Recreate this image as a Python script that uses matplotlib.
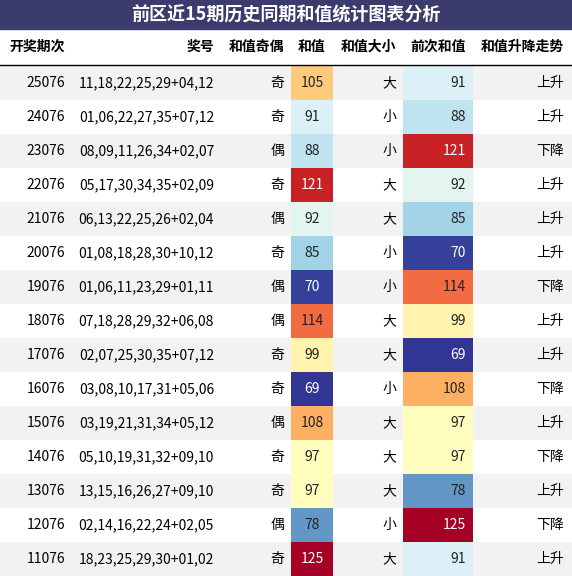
import matplotlib.pyplot as plt
from matplotlib import cm, colors
from matplotlib.patches import Rectangle

plt.rcParams['font.family'] = ['Noto Sans CJK SC', 'DejaVu Sans']

title = "前区近15期历史同期和值统计图表分析"
headers = ["开奖期次", "奖号", "和值奇偶", "和值", "和值大小", "前次和值", "和值升降走势"]
periods = ["25076", "24076", "23076", "22076", "21076", "20076", "19076", "18076",
           "17076", "16076", "15076", "14076", "13076", "12076", "11076"]
numbers = ["11,18,22,25,29+04,12", "01,06,22,27,35+07,12", "08,09,11,26,34+02,07",
           "05,17,30,34,35+02,09", "06,13,22,25,26+02,04", "01,08,18,28,30+10,12",
           "01,06,11,23,29+01,11", "07,18,28,29,32+06,08", "02,07,25,30,35+07,12",
           "03,08,10,17,31+05,06", "03,19,21,31,34+05,12", "05,10,19,31,32+09,10",
           "13,15,16,26,27+09,10", "02,14,16,22,24+02,05", "18,23,25,29,30+01,02"]
parity = ["奇", "奇", "偶", "奇", "偶", "奇", "偶", "偶", "奇", "奇", "偶", "奇", "奇", "偶", "奇"]
sums = [105, 91, 88, 121, 92, 85, 70, 114, 99, 69, 108, 97, 97, 78, 125]
size = ["大", "小", "小", "大", "大", "小", "小", "大", "大", "小", "大", "大", "大", "小", "大"]
prev_sums = [91, 88, 121, 92, 85, 70, 114, 99, 69, 108, 97, 97, 78, 125, 91]
trend = ["上升", "上升", "下降", "上升", "上升", "上升", "下降", "上升", "上升", "下降",
         "上升", "下降", "上升", "下降", "上升"]

W, H = 572, 576
fig = plt.figure(figsize=(W / 100, H / 100), dpi=100)
ax = fig.add_axes([0, 0, 1, 1])
ax.set_xlim(0, W)
ax.set_ylim(H, 0)
ax.axis("off")

cmap = cm.get_cmap("RdYlBu_r")
norm = colors.Normalize(vmin=min(sums + prev_sums), vmax=max(sums + prev_sums))

# title bar
ax.add_patch(Rectangle((0, 0), W, 29, color="#3b3b6d"))
ax.text(W / 2, 15, title, color="white", fontsize=13, fontweight="bold", ha="center", va="center")

header_y = 47
header_x = [65, 214, 284, 312, 396, 438, 564]
header_ha = ["right", "right", "right", "center", "right", "center", "right"]
for x, h, ha in zip(header_x, headers, header_ha):
    ax.text(x, header_y, h, fontsize=10, fontweight="bold", ha=ha, va="center")
ax.plot([0, W], [65, 65], color="black", lw=1)

top, rh = 66, 34
for i in range(len(periods)):
    y0 = top + i * rh
    yc = y0 + rh / 2
    if i % 2 == 0:
        ax.add_patch(Rectangle((0, y0), W, rh, color="#f2f2f2", lw=0))
    for val, x0, w, tx, ha in [(sums[i], 291, 42, 312, "center"),
                               (prev_sums[i], 403, 70, 466, "right")]:
        c = cmap(norm(val))
        ax.add_patch(Rectangle((x0, y0), w, rh, color=c, lw=0))
        lum = 0.299 * c[0] + 0.587 * c[1] + 0.114 * c[2]
        ax.text(tx, yc, str(val), fontsize=10, ha=ha, va="center",
                color="white" if lum < 0.55 else "#222222")
    ax.text(65, yc, periods[i], fontsize=10, ha="right", va="center")
    ax.text(214, yc, numbers[i], fontsize=10, ha="right", va="center")
    ax.text(284, yc, parity[i], fontsize=10, ha="right", va="center")
    ax.text(396, yc, size[i], fontsize=10, ha="right", va="center")
    ax.text(564, yc, trend[i], fontsize=10, ha="right", va="center")

fig.savefig("out.png", dpi=100)
